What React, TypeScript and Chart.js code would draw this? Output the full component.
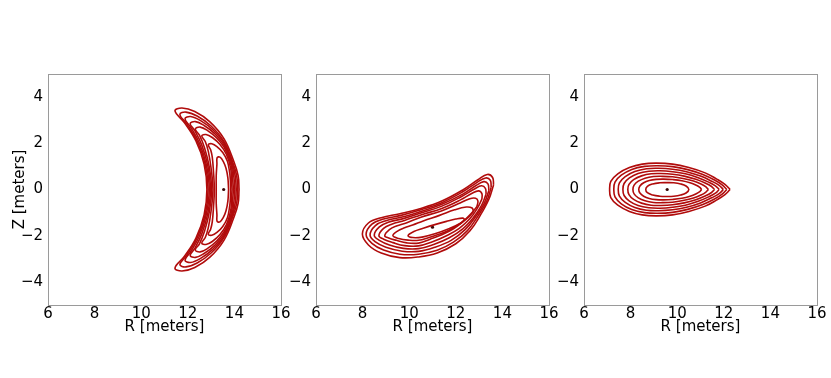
import React, { useEffect, useRef } from 'react';
import { Chart, registerables } from 'chart.js';

Chart.register(...registerables);

// ---------- axes ----------
const X_TICKS = [6, 8, 10, 12, 14, 16];
const X_TICK_LABELS = ['6', '8', '10', '12', '14', '16'];
const Y_TICKS = [-4, -2, 0, 2, 4];
const Y_TICK_LABELS = ['−4', '−2', '0', '2', '4'];
const X_TITLE = 'R [meters]';
const Y_TITLE = 'Z [meters]';

// ---------- panel 1: crescent (R, Z) ----------
const P1_AXIS = [[13.54, 0]];
const P1_S0 = [[14.2,0],[14.16,-0.6],[13.98,-1.2],[13.55,-2.2],[12.95,-2.93],[12.3,-3.38],[11.75,-3.53],[11.45,-3.4],[11.85,-2.9],[12.35,-2.1],[12.7,-1.1],[12.82,0],[12.7,1.1],[12.35,2.1],[11.85,2.9],[11.45,3.4],[11.75,3.53],[12.3,3.38],[12.95,2.93],[13.55,2.2],[13.98,1.2],[14.16,0.6],[14.2,0]];
const P1_S1 = [[14.14,0],[14.1,-0.58],[13.94,-1.15],[13.55,-2.08],[13.0,-2.75],[12.4,-3.18],[11.92,-3.35],[11.66,-3.25],[11.95,-2.85],[12.42,-2.05],[12.75,-1.08],[12.87,0],[12.75,1.08],[12.42,2.05],[11.95,2.85],[11.66,3.25],[11.92,3.35],[12.4,3.18],[13.0,2.75],[13.55,2.08],[13.94,1.15],[14.1,0.58],[14.14,0]];
const P1_S2 = [[14.08,0],[14.04,-0.55],[13.92,-1.1],[13.58,-1.97],[13.08,-2.58],[12.55,-2.98],[12.12,-3.16],[11.88,-3.06],[12.12,-2.7],[12.5,-2.0],[12.8,-1.05],[12.92,0],[12.8,1.05],[12.5,2.0],[12.12,2.7],[11.88,3.06],[12.12,3.16],[12.55,2.98],[13.08,2.58],[13.58,1.97],[13.92,1.1],[14.04,0.55],[14.08,0]];
const P1_S3 = [[14.02,0],[13.98,-0.52],[13.9,-1.05],[13.6,-1.85],[13.15,-2.42],[12.7,-2.77],[12.33,-2.94],[12.1,-2.85],[12.3,-2.55],[12.6,-1.92],[12.86,-1.02],[12.97,0],[12.86,1.02],[12.6,1.92],[12.3,2.55],[12.1,2.85],[12.33,2.94],[12.7,2.77],[13.15,2.42],[13.6,1.85],[13.9,1.05],[13.98,0.52],[14.02,0]];
const P1_S4 = [[13.96,0],[13.92,-0.5],[13.87,-1.0],[13.62,-1.72],[13.25,-2.22],[12.85,-2.55],[12.53,-2.7],[12.32,-2.62],[12.5,-2.35],[12.72,-1.8],[12.92,-0.98],[13.02,0],[12.92,0.98],[12.72,1.8],[12.5,2.35],[12.32,2.62],[12.53,2.7],[12.85,2.55],[13.25,2.22],[13.62,1.72],[13.87,1.0],[13.92,0.5],[13.96,0]];
const P1_S5 = [[13.9,0],[13.87,-0.46],[13.84,-0.92],[13.66,-1.52],[13.38,-1.95],[13.05,-2.25],[12.78,-2.38],[12.6,-2.32],[12.75,-2.08],[12.88,-1.65],[13.0,-0.92],[13.08,0],[13.0,0.92],[12.88,1.65],[12.75,2.08],[12.6,2.32],[12.78,2.38],[13.05,2.25],[13.38,1.95],[13.66,1.52],[13.84,0.92],[13.87,0.46],[13.9,0]];
const P1_S6 = [[13.84,0],[13.83,-0.35],[13.8,-0.7],[13.7,-1.22],[13.5,-1.6],[13.25,-1.86],[13.03,-1.98],[12.88,-1.94],[12.98,-1.72],[13.05,-1.4],[13.1,-0.8],[13.14,0],[13.1,0.8],[13.05,1.4],[12.98,1.72],[12.88,1.94],[13.03,1.98],[13.25,1.86],[13.5,1.6],[13.7,1.22],[13.8,0.7],[13.83,0.35],[13.84,0]];
const P1_S7 = [[13.75,0],[13.72,-0.5],[13.64,-0.92],[13.52,-1.22],[13.38,-1.4],[13.26,-1.38],[13.25,-1.1],[13.22,-0.6],[13.22,0],[13.22,0.6],[13.25,1.1],[13.26,1.38],[13.38,1.4],[13.52,1.22],[13.64,0.92],[13.72,0.5],[13.75,0]];

// ---------- panel 2: tilted bean ----------
const P2_AXIS = [[11.0, -1.63]];
const P2_S0 = [[13.62,0.2],[13.42,-0.42],[13.05,-1.12],[12.6,-1.8],[12.0,-2.35],[11.2,-2.75],[10.4,-2.92],[9.6,-2.95],[8.8,-2.75],[8.25,-2.4],[7.99,-1.93],[8.25,-1.45],[8.8,-1.22],[9.6,-1.05],[10.5,-0.82],[11.4,-0.5],[12.3,-0.02],[12.95,0.42],[13.35,0.65],[13.58,0.52],[13.62,0.2]];
const P2_S1 = [[13.52,0.1],[13.33,-0.5],[12.95,-1.15],[12.5,-1.78],[11.9,-2.28],[11.2,-2.63],[10.4,-2.8],[9.6,-2.8],[8.9,-2.62],[8.4,-2.33],[8.15,-1.95],[8.4,-1.5],[8.9,-1.28],[9.65,-1.12],[10.5,-0.88],[11.4,-0.57],[12.3,-0.1],[12.9,0.3],[13.28,0.5],[13.48,0.4],[13.52,0.1]];
const P2_S2 = [[13.42,-0.04],[13.22,-0.6],[12.85,-1.18],[12.4,-1.74],[11.8,-2.2],[11.1,-2.5],[10.4,-2.68],[9.7,-2.67],[9.0,-2.5],[8.55,-2.27],[8.32,-1.97],[8.55,-1.56],[9.0,-1.35],[9.7,-1.19],[10.5,-0.95],[11.4,-0.64],[12.3,-0.2],[12.85,0.16],[13.2,0.34],[13.38,0.24],[13.42,-0.04]];
const P2_S3 = [[13.3,-0.2],[13.1,-0.7],[12.75,-1.22],[12.3,-1.7],[11.7,-2.1],[11.05,-2.38],[10.4,-2.56],[9.75,-2.55],[9.15,-2.4],[8.72,-2.2],[8.5,-1.98],[8.72,-1.62],[9.1,-1.42],[9.75,-1.26],[10.5,-1.02],[11.4,-0.72],[12.25,-0.3],[12.8,0.02],[13.1,0.16],[13.27,0.05],[13.3,-0.2]];
const P2_S4 = [[13.12,-0.42],[12.92,-0.82],[12.6,-1.27],[12.15,-1.68],[11.6,-2.0],[11.0,-2.26],[10.4,-2.44],[9.8,-2.43],[9.3,-2.3],[8.9,-2.15],[8.7,-2.0],[8.9,-1.68],[9.25,-1.5],[9.8,-1.34],[10.5,-1.1],[11.4,-0.82],[12.2,-0.45],[12.7,-0.16],[12.98,-0.06],[13.12,-0.18],[13.12,-0.42]];
const P2_S5 = [[12.9,-0.75],[12.65,-1.05],[12.3,-1.4],[11.9,-1.7],[11.4,-1.96],[10.9,-2.15],[10.4,-2.32],[9.9,-2.31],[9.45,-2.2],[9.12,-2.1],[8.95,-2.0],[9.15,-1.74],[9.45,-1.58],[9.9,-1.44],[10.5,-1.2],[11.35,-0.94],[12.1,-0.62],[12.6,-0.4],[12.85,-0.38],[12.95,-0.5],[12.9,-0.75]];
const P2_S6 = [[12.76,-0.95],[12.55,-1.2],[12.15,-1.5],[11.75,-1.74],[11.3,-1.93],[10.85,-2.08],[10.4,-2.2],[9.95,-2.19],[9.55,-2.12],[9.3,-2.0],[9.5,-1.8],[9.8,-1.66],[10.15,-1.54],[10.6,-1.36],[11.3,-1.12],[11.95,-0.88],[12.45,-0.76],[12.7,-0.8],[12.76,-0.95]];
const P2_S7 = [[12.38,-1.3],[12.2,-1.46],[11.7,-1.7],[11.1,-1.92],[10.55,-2.06],[10.15,-2.08],[9.95,-2.0],[10.2,-1.82],[10.6,-1.68],[11.1,-1.52],[11.6,-1.38],[12.0,-1.28],[12.3,-1.24],[12.38,-1.3]];

// ---------- panel 3: teardrop ----------
const P3_AXIS = [[9.57, 0]];
const P3_S0 = [[12.27,0],[12.05,0.22],[11.7,0.45],[11.2,0.72],[10.5,0.95],[9.8,1.1],[9.1,1.14],[8.5,1.1],[7.95,0.95],[7.45,0.68],[7.15,0.35],[7.1,0],[7.15,-0.35],[7.45,-0.68],[7.95,-0.95],[8.5,-1.1],[9.1,-1.14],[9.8,-1.1],[10.5,-0.95],[11.2,-0.72],[11.7,-0.45],[12.05,-0.22],[12.27,0]];
const P3_S1 = [[12.13,0],[11.93,0.2],[11.6,0.41],[11.1,0.65],[10.45,0.86],[9.8,0.99],[9.15,1.03],[8.6,1.0],[8.05,0.87],[7.6,0.62],[7.33,0.32],[7.28,0],[7.33,-0.32],[7.6,-0.62],[8.05,-0.87],[8.6,-1.0],[9.15,-1.03],[9.8,-0.99],[10.45,-0.86],[11.1,-0.65],[11.6,-0.41],[11.93,-0.2],[12.13,0]];
const P3_S2 = [[11.98,0],[11.8,0.18],[11.48,0.36],[11.0,0.58],[10.4,0.77],[9.8,0.88],[9.2,0.92],[8.68,0.9],[8.18,0.78],[7.77,0.56],[7.52,0.29],[7.47,0],[7.52,-0.29],[7.77,-0.56],[8.18,-0.78],[8.68,-0.9],[9.2,-0.92],[9.8,-0.88],[10.4,-0.77],[11.0,-0.58],[11.48,-0.36],[11.8,-0.18],[11.98,0]];
const P3_S3 = [[11.8,0],[11.64,0.16],[11.35,0.32],[10.9,0.51],[10.35,0.68],[9.8,0.77],[9.25,0.81],[8.78,0.79],[8.32,0.69],[7.95,0.5],[7.72,0.26],[7.67,0],[7.72,-0.26],[7.95,-0.5],[8.32,-0.69],[8.78,-0.79],[9.25,-0.81],[9.8,-0.77],[10.35,-0.68],[10.9,-0.51],[11.35,-0.32],[11.64,-0.16],[11.8,0]];
const P3_S4 = [[11.6,0],[11.46,0.14],[11.2,0.28],[10.8,0.44],[10.3,0.58],[9.8,0.66],[9.3,0.69],[8.88,0.68],[8.47,0.59],[8.13,0.43],[7.93,0.22],[7.88,0],[7.93,-0.22],[8.13,-0.43],[8.47,-0.59],[8.88,-0.68],[9.3,-0.69],[9.8,-0.66],[10.3,-0.58],[10.8,-0.44],[11.2,-0.28],[11.46,-0.14],[11.6,0]];
const P3_S5 = [[11.34,0],[11.22,0.12],[11.02,0.24],[10.7,0.37],[10.25,0.48],[9.8,0.55],[9.36,0.57],[8.98,0.56],[8.62,0.49],[8.33,0.36],[8.15,0.19],[8.1,0],[8.15,-0.19],[8.33,-0.36],[8.62,-0.49],[8.98,-0.56],[9.36,-0.57],[9.8,-0.55],[10.25,-0.48],[10.7,-0.37],[11.02,-0.24],[11.22,-0.12],[11.34,0]];
const P3_S6 = [[11.05,0],[10.97,0.09],[10.82,0.18],[10.55,0.29],[10.2,0.38],[9.8,0.43],[9.42,0.45],[9.1,0.44],[8.8,0.39],[8.56,0.29],[8.4,0.15],[8.35,0],[8.4,-0.15],[8.56,-0.29],[8.8,-0.39],[9.1,-0.44],[9.42,-0.45],[9.8,-0.43],[10.2,-0.38],[10.55,-0.29],[10.82,-0.18],[10.97,-0.09],[11.05,0]];
const P3_S7 = [[9.55,0.3],[9.85,0.29],[10.15,0.24],[10.38,0.15],[10.5,0],[10.38,-0.15],[10.15,-0.24],[9.85,-0.29],[9.55,-0.3],[9.25,-0.29],[8.95,-0.24],[8.72,-0.14],[8.65,0],[8.72,0.14],[8.95,0.24],[9.25,0.29],[9.55,0.3]];

const PANELS = [
  { surfaces: [P1_S0, P1_S1, P1_S2, P1_S3, P1_S4, P1_S5, P1_S6, P1_S7], axis: P1_AXIS, yTitle: true, left: 0 },
  { surfaces: [P2_S0, P2_S1, P2_S2, P2_S3, P2_S4, P2_S5, P2_S6, P2_S7], axis: P2_AXIS, yTitle: false, left: 268 },
  { surfaces: [P3_S0, P3_S1, P3_S2, P3_S3, P3_S4, P3_S5, P3_S6, P3_S7], axis: P3_AXIS, yTitle: false, left: 536 },
];

const LINE_COLOR = '#b00b0b';
const AXIS_DOT = '#3a0808';
const FRAME = '#9a9a9a';
const FONT = { family: '"DejaVu Sans", sans-serif', size: 15 };
const TEXT = '#000000';

const CANVAS_W = 295;
const CANVAS_H = 285;
const Y_AXIS_W = 48;
const X_AXIS_H = 40;

const framePlugin = {
  id: 'frame',
  afterDraw(chart: any) {
    const { ctx, chartArea } = chart;
    ctx.save();
    ctx.strokeStyle = FRAME;
    ctx.lineWidth = 1;
    ctx.strokeRect(
      Math.round(chartArea.left) + 0.5,
      Math.round(chartArea.top) + 0.5,
      Math.round(chartArea.right - chartArea.left),
      Math.round(chartArea.bottom - chartArea.top)
    );
    ctx.restore();
  },
};

function Panel({ panel }: { panel: any }) {
  const ref = useRef<HTMLCanvasElement | null>(null);
  useEffect(() => {
    if (!ref.current) return;
    const datasets: any[] = panel.surfaces.map((s: number[][]) => ({
      data: s.map(([x, y]) => ({ x, y })),
      showLine: true,
      borderColor: LINE_COLOR,
      backgroundColor: LINE_COLOR,
      borderWidth: 1.6,
      pointRadius: 0,
      pointHoverRadius: 0,
      tension: 0.4,
      fill: false,
    }));
    datasets.push({
      data: panel.axis.map(([x, y]: number[]) => ({ x, y })),
      showLine: false,
      pointRadius: 1.6,
      pointBorderWidth: 0,
      pointBackgroundColor: AXIS_DOT,
      borderColor: AXIS_DOT,
    });
    const chart = new Chart(ref.current, {
      type: 'scatter',
      data: { datasets },
      plugins: [framePlugin],
      options: {
        animation: false,
        responsive: false,
        events: [],
        layout: { padding: { top: 12, right: CANVAS_W - Y_AXIS_W - 233, left: 0, bottom: 0 } },
        plugins: { legend: { display: false }, tooltip: { enabled: false } },
        scales: {
          x: {
            type: 'linear',
            min: 6,
            max: 16,
            afterBuildTicks: (s: any) => { s.ticks = X_TICKS.map((v) => ({ value: v })); },
            afterFit: (s: any) => { s.height = X_AXIS_H; },
            grid: { display: false, drawTicks: false },
            border: { display: false },
            ticks: {
              padding: 0,
              maxRotation: 0,
              autoSkip: false,
              color: TEXT,
              font: FONT,
              callback: (v: any) => X_TICK_LABELS[X_TICKS.indexOf(Number(v))] ?? '',
            },
            title: { display: true, text: X_TITLE, color: TEXT, font: FONT, padding: { top: 0, bottom: 9 } },
          },
          y: {
            type: 'linear',
            min: -5,
            max: 5,
            afterBuildTicks: (s: any) => { s.ticks = Y_TICKS.map((v) => ({ value: v })); },
            afterFit: (s: any) => { s.width = Y_AXIS_W; },
            grid: { display: false, drawTicks: false },
            border: { display: false },
            ticks: {
              padding: 5,
              autoSkip: false,
              color: TEXT,
              font: FONT,
              callback: (v: any) => Y_TICK_LABELS[Y_TICKS.indexOf(Number(v))] ?? '',
            },
            title: { display: panel.yTitle, text: Y_TITLE, color: TEXT, font: FONT, padding: { top: 11, bottom: 0 } },
          },
        },
      } as any,
    });
    return () => chart.destroy();
  }, [panel]);
  return (
    <canvas
      ref={ref}
      width={CANVAS_W}
      height={CANVAS_H}
      style={{ position: 'absolute', left: panel.left, top: 60, width: CANVAS_W, height: CANVAS_H, display: 'block' }}
    />
  );
}

export default function App() {
  return (
    <div style={{ position: 'absolute', left: 0, top: 0, width: 831, height: 378, background: '#ffffff', overflow: 'hidden' }}>
      {PANELS.map((p, i) => (
        <Panel key={i} panel={p} />
      ))}
    </div>
  );
}
